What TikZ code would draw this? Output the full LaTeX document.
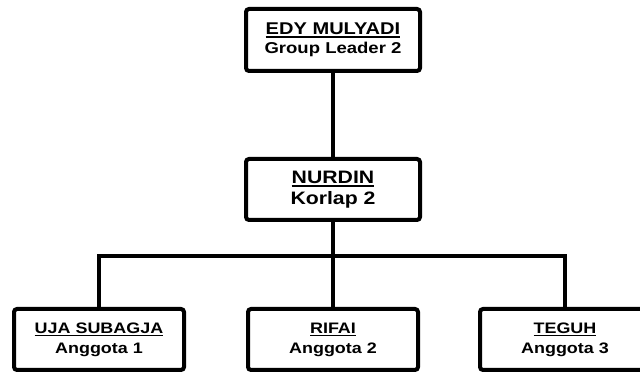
\documentclass[tikz,border=0pt]{standalone}
\usepackage{fontspec}
\setmainfont{Liberation Sans}[FakeStretch=1.18]
\usetikzlibrary{positioning}
\newcommand{\namebar}[1]{\setbox0\hbox{#1}\rlap{\rule[-3.2pt]{\wd0}{1.4pt}}\box0}

\begin{document}
\begin{tikzpicture}[
  x=1pt,y=1pt,
  every node/.style={align=center},
  box/.style={draw,line width=4pt,rounded corners=3pt,fill=white,inner sep=0pt},
  leader/.style={box,minimum width=174pt,minimum height=62pt,font=\bfseries\fontsize{17}{19.5}\selectfont},
  korlap/.style={leader,minimum height=61pt,font=\bfseries\fontsize{18}{20.5}\selectfont},
  member/.style={box,minimum width=170pt,minimum height=61pt,font=\bfseries\fontsize{15.2}{20}\selectfont},
  link/.style={line width=4pt}
]
\useasboundingbox[fill=white] (0,0) rectangle (640,374);
\clip (0,0) rectangle (640,374);
\node[leader] (edy) at (333,334)
  {\namebar{EDY MULYADI}\\\fontsize{15.7}{19.5}\selectfont Group Leader 2};
\node[korlap,below=84pt of edy] (nurdin) {\namebar{NURDIN}\\Korlap 2};
\node[member,below=85pt of nurdin] (rifai) {\namebar{RIFAI}\\Anggota 2};
\node[member,left=60pt of rifai] (uja) {\namebar{UJA SUBAGJA}\\Anggota 1};
\node[member,right=58pt of rifai] (teguh) {\namebar{TEGUH}\\Anggota 3};
\coordinate[below=34pt of nurdin] (bar);
\draw[link] (edy) -- (nurdin);
\draw[link] (nurdin) -- (rifai);
\draw[link] (uja.north) |- (bar) -| (teguh.north);
\end{tikzpicture}
\end{document}
